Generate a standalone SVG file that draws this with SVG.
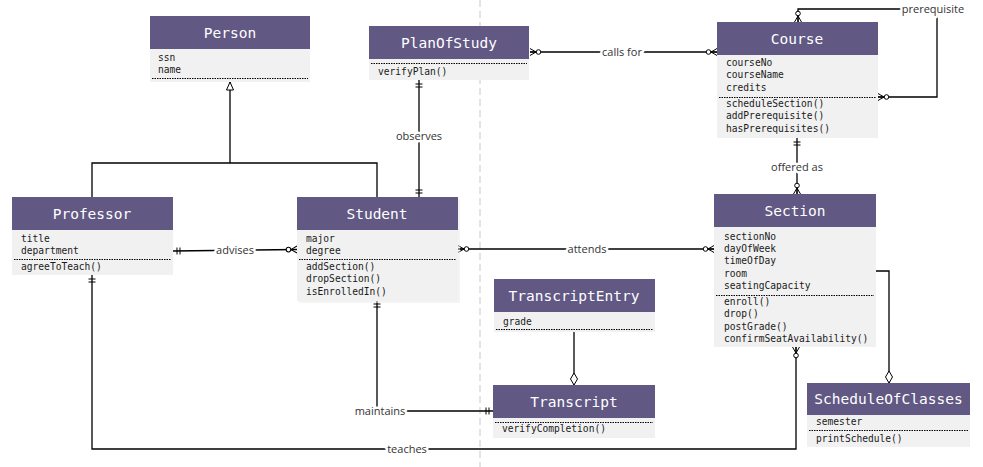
<svg xmlns="http://www.w3.org/2000/svg" width="983" height="467" viewBox="0 0 983 467">
<style>
.hd{fill:#615884}
.bd{fill:#f1f1f1}
.tt{font-family:"DejaVu Sans Mono","Liberation Mono",monospace;font-size:14.5px;fill:#ffffff;text-anchor:middle}
.at{font-family:"DejaVu Sans Mono","Liberation Mono",monospace;font-size:9.6px;fill:#1a1a1a}
.sep{stroke:#000;stroke-width:1;stroke-dasharray:1.5,1}
.cn{fill:none;stroke:#000;stroke-width:1.3}
.lb{font-family:"Open Sans","DejaVu Sans",sans-serif;font-size:11px;fill:#333;text-anchor:middle;stroke:#fff;stroke-width:5;paint-order:stroke;stroke-linejoin:round}
</style>
<defs>
<marker id="zm" markerUnits="userSpaceOnUse" markerWidth="20" markerHeight="12" viewBox="-14 -6 20 12" refX="0" refY="0" orient="auto-start-reverse" overflow="visible">
<path d="M-6,0 L0,-3.5 M-6,0 L0,3.5 M-6,0 L0,0" fill="none" stroke="#000" stroke-width="1"/>
<circle cx="-8.5" cy="0" r="2.3" fill="#fff" stroke="#000" stroke-width="1"/>
</marker>
<marker id="oo" markerUnits="userSpaceOnUse" markerWidth="20" markerHeight="12" viewBox="-14 -6 20 12" refX="0" refY="0" orient="auto-start-reverse" overflow="visible">
<path d="M-4,-3.5 L-4,3.5 M-7,-3.5 L-7,3.5" fill="none" stroke="#000" stroke-width="1"/>
</marker>
<marker id="dia" markerUnits="userSpaceOnUse" markerWidth="20" markerHeight="12" viewBox="-16 -6 20 12" refX="0" refY="0" orient="auto-start-reverse" overflow="visible">
<path d="M0,0 L-6,-3.5 L-12,0 L-6,3.5 Z" fill="#fff" stroke="#000" stroke-width="1"/>
</marker>
<marker id="tri" markerUnits="userSpaceOnUse" markerWidth="20" markerHeight="12" viewBox="-16 -6 20 12" refX="0" refY="0" orient="auto-start-reverse" overflow="visible">
<path d="M0,0 L-8,-3.5 L-8,3.5 Z" fill="#fff" stroke="#000" stroke-width="1"/>
</marker>
</defs>
<rect width="983" height="467" fill="#fff"/>
<line x1="480" y1="0" x2="480" y2="467" stroke="#c8c8c8" stroke-width="1" stroke-dasharray="7,4"/>

<g id="connectors">
<path class="cn" d="M92,197 V163 H377 V197 M230,163 V82" marker-end="url(#tri)"/>
<path class="cn" d="M530,52 H717" marker-start="url(#zm)" marker-end="url(#zm)"/>
<path class="cn" d="M798,22 V9 H937 V97 H878" marker-start="url(#zm)" marker-end="url(#zm)"/>
<path class="cn" d="M419,80 V197" marker-start="url(#oo)" marker-end="url(#oo)"/>
<path class="cn" d="M797,138 V194" marker-start="url(#oo)" marker-end="url(#zm)"/>
<path class="cn" d="M173,251 L297,249.5" marker-start="url(#oo)" marker-end="url(#zm)"/>
<path class="cn" d="M458,249 H714" marker-start="url(#zm)" marker-end="url(#zm)"/>
<path class="cn" d="M377,300 V411 H493" marker-start="url(#oo)" marker-end="url(#oo)"/>
<path class="cn" d="M574,332 V385" marker-end="url(#dia)"/>
<path class="cn" d="M876,271 H889 V383" marker-end="url(#dia)"/>
<path class="cn" d="M92,275 V449 H796 V347" marker-start="url(#oo)" marker-end="url(#zm)"/>
<text class="lb" x="622" y="56">calls for</text>
<text class="lb" x="933" y="13">prerequisite</text>
<text class="lb" x="419" y="140">observes</text>
<text class="lb" x="797" y="171">offered as</text>
<text class="lb" x="235" y="254">advises</text>
<text class="lb" x="587" y="253">attends</text>
<text class="lb" x="380" y="415">maintains</text>
<text class="lb" x="407" y="453">teaches</text>
</g>

<g id="Person">
<rect class="hd" x="150" y="16" width="160" height="33"/>
<rect class="bd" x="150" y="49" width="160" height="33"/>
<text class="tt" x="230" y="38">Person</text>
<text class="at" x="158" y="61">ssn</text>
<text class="at" x="158" y="73">name</text>
<line class="sep" x1="152" y1="78.5" x2="308" y2="78.5"/>
</g>

<g id="PlanOfStudy">
<rect class="hd" x="369" y="26" width="160" height="33"/>
<rect class="bd" x="369" y="59" width="160" height="21"/>
<text class="tt" x="449" y="48">PlanOfStudy</text>
<line class="sep" x1="371" y1="63.5" x2="527" y2="63.5"/>
<text class="at" x="378" y="75">verifyPlan()</text>
</g>

<g id="Course">
<rect class="hd" x="717" y="22" width="161" height="33"/>
<rect class="bd" x="717" y="55" width="161" height="83"/>
<text class="tt" x="797" y="44">Course</text>
<text class="at" x="726" y="66">courseNo</text>
<text class="at" x="726" y="78">courseName</text>
<text class="at" x="726" y="91">credits</text>
<line class="sep" x1="719" y1="97.5" x2="876" y2="97.5"/>
<text class="at" x="726" y="107">scheduleSection()</text>
<text class="at" x="726" y="119">addPrerequisite()</text>
<text class="at" x="726" y="132">hasPrerequisites()</text>
</g>

<g id="Professor">
<rect class="hd" x="12" y="197" width="161" height="33"/>
<rect class="bd" x="12" y="230" width="161" height="45"/>
<text class="tt" x="92" y="219">Professor</text>
<text class="at" x="21" y="242">title</text>
<text class="at" x="21" y="254">department</text>
<line class="sep" x1="14" y1="259.5" x2="171" y2="259.5"/>
<text class="at" x="21" y="270">agreeToTeach()</text>
</g>

<g id="Student">
<rect x="299" y="199" width="161" height="104" fill="#e9e9e9" opacity="0.5"/>
<rect class="hd" x="297" y="197" width="161" height="33"/>
<rect class="bd" x="297" y="230" width="161" height="71"/>
<text class="tt" x="377" y="219">Student</text>
<text class="at" x="306" y="242">major</text>
<text class="at" x="306" y="254">degree</text>
<line class="sep" x1="299" y1="259.5" x2="456" y2="259.5"/>
<text class="at" x="306" y="270">addSection()</text>
<text class="at" x="306" y="282">dropSection()</text>
<text class="at" x="306" y="295">isEnrolledIn()</text>
</g>

<g id="Section">
<rect class="hd" x="714" y="194" width="162" height="33"/>
<rect class="bd" x="714" y="227" width="162" height="120"/>
<text class="tt" x="795" y="216">Section</text>
<text class="at" x="724" y="240">sectionNo</text>
<text class="at" x="724" y="252">dayOfWeek</text>
<text class="at" x="724" y="264">timeOfDay</text>
<text class="at" x="724" y="277">room</text>
<text class="at" x="724" y="289">seatingCapacity</text>
<line class="sep" x1="716" y1="295.5" x2="874" y2="295.5"/>
<text class="at" x="724" y="305">enroll()</text>
<text class="at" x="724" y="317">drop()</text>
<text class="at" x="724" y="330">postGrade()</text>
<text class="at" x="724" y="342">confirmSeatAvailability()</text>
</g>

<g id="TranscriptEntry">
<rect class="hd" x="494" y="279" width="161" height="33"/>
<rect class="bd" x="494" y="312" width="161" height="20"/>
<text class="tt" x="574" y="301">TranscriptEntry</text>
<text class="at" x="503" y="325">grade</text>
<line class="sep" x1="496" y1="329.5" x2="653" y2="329.5"/>
</g>

<g id="Transcript">
<rect class="hd" x="493" y="385" width="162" height="33"/>
<rect class="bd" x="493" y="418" width="162" height="20"/>
<text class="tt" x="574" y="407">Transcript</text>
<line class="sep" x1="495" y1="422.5" x2="653" y2="422.5"/>
<text class="at" x="502" y="432">verifyCompletion()</text>
</g>

<g id="ScheduleOfClasses">
<rect class="hd" x="807" y="383" width="163" height="32"/>
<rect class="bd" x="807" y="415" width="163" height="32"/>
<text class="tt" x="888.5" y="404">ScheduleOfClasses</text>
<text class="at" x="816" y="425">semester</text>
<line class="sep" x1="809" y1="430.5" x2="968" y2="430.5"/>
<text class="at" x="816" y="442">printSchedule()</text>
</g>
</svg>
